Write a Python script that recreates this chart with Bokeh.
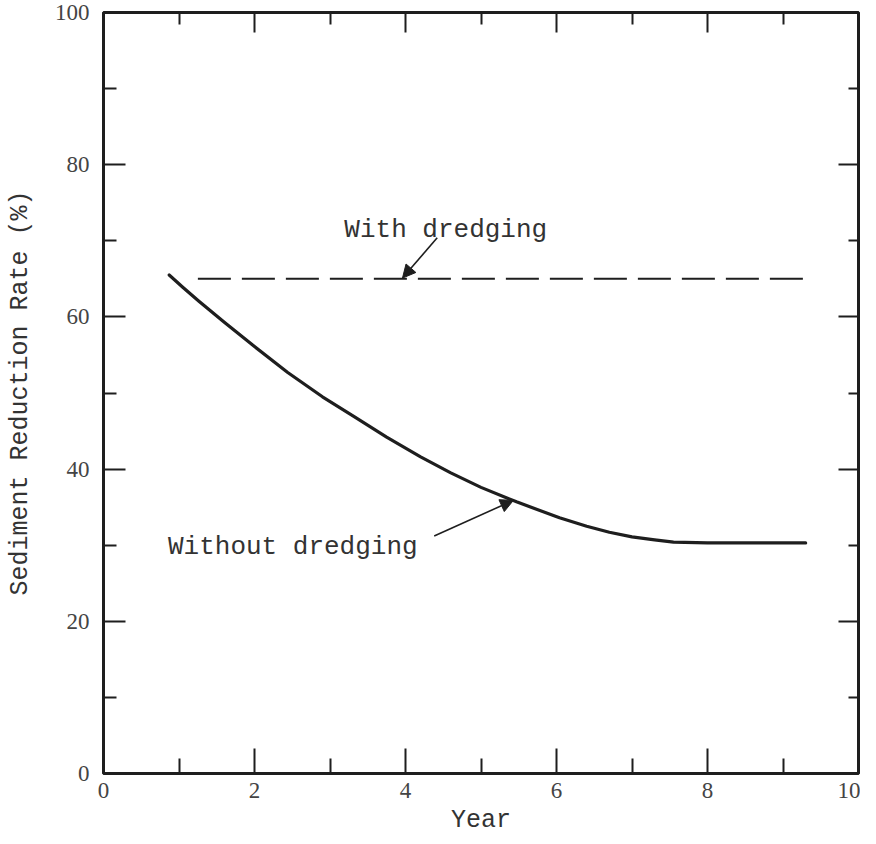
from bokeh.plotting import figure
from bokeh.models import Range1d, FixedTicker, LinearAxis, Arrow, NormalHead, ColumnDataSource
from bokeh.core.properties import value
from bokeh.embed import file_html
from bokeh.resources import INLINE

# ---- data ----
without_x = [0.87, 1.05, 1.26, 1.6, 2.0, 2.44, 2.9, 3.32, 3.75, 4.2, 4.6, 5.0, 5.47,
             6.04, 6.4, 6.7, 7.0, 7.3, 7.55, 8.0, 8.6, 9.3]
without_y = [65.5, 63.9, 62.1, 59.3, 56.1, 52.7, 49.5, 46.9, 44.2, 41.6, 39.5, 37.6, 35.7,
             33.6, 32.5, 31.7, 31.1, 30.7, 30.4, 30.3, 30.3, 30.3]

with_x = [1.25, 9.33]
with_y = [65.0, 65.0]

x_ticks = [0, 2, 4, 6, 8, 10]
x_minor = [1, 3, 5, 7, 9]
y_ticks = [0, 20, 40, 60, 80, 100]
y_minor = [10, 30, 50, 70, 90]

label_text = ["With dredging", "Without dredging"]
label_x = [3.19, 0.854]
label_y = [71.4, 29.8]

arrow_tail_x = [4.42, 4.38]
arrow_tail_y = [70.4, 31.2]
arrow_tip_x = [3.96, 5.43]
arrow_tip_y = [65.1, 35.9]

INK = "#1e1e1e"
TXT = "#333333"
MONO = "Liberation Mono"
SERIF = "Liberation Serif"

p = figure(width=860, height=836, output_backend="svg", toolbar_location=None,
           x_range=Range1d(0, 10), y_range=Range1d(0, 100),
           frame_width=755, frame_height=761,
           x_axis_location=None, y_axis_location=None,
           min_border_left=103, min_border_top=12, min_border_right=2, min_border_bottom=10)
p.xgrid.visible = False
p.ygrid.visible = False
p.outline_line_color = INK
p.outline_line_width = 3
p.background_fill_color = "white"
p.border_fill_color = "white"

def style_axis(ax, ticks, minor, major_len, minor_len, labels=True):
    ax.ticker = FixedTicker(ticks=ticks, minor_ticks=minor)
    ax.axis_line_color = None
    ax.major_tick_in = major_len
    ax.major_tick_out = 0
    ax.minor_tick_in = minor_len
    ax.minor_tick_out = 0
    ax.major_tick_line_color = INK
    ax.minor_tick_line_color = INK
    ax.major_tick_line_width = 2
    ax.minor_tick_line_width = 2
    if labels:
        ax.major_label_text_font = SERIF
        ax.major_label_text_font_size = "23px"
        ax.major_label_text_color = "#444444"
    else:
        ax.major_label_text_font_size = "0px"
        ax.major_label_text_color = None

xb = LinearAxis(axis_label="Year")
style_axis(xb, x_ticks, x_minor, 25, 15)
xb.major_label_standoff = 9
xb.axis_label_text_font = MONO
xb.axis_label_text_font_size = "25px"
xb.axis_label_text_font_style = "normal"
xb.axis_label_text_color = TXT
xb.axis_label_standoff = 5
p.add_layout(xb, "below")

yl = LinearAxis(axis_label="Sediment Reduction Rate (%)")
style_axis(yl, y_ticks, y_minor, 22, 13)
yl.major_label_standoff = 14
yl.axis_label_text_font = MONO
yl.axis_label_text_font_size = "25px"
yl.axis_label_text_font_style = "normal"
yl.axis_label_text_color = TXT
yl.axis_label_standoff = 17
p.add_layout(yl, "left")

xt = LinearAxis()
style_axis(xt, x_ticks, x_minor, 20, 12, labels=False)
p.add_layout(xt, "above")

yr = LinearAxis()
style_axis(yr, y_ticks, y_minor, 20, 10, labels=False)
p.add_layout(yr, "right")

p.line(without_x, without_y, line_color=INK, line_width=3.2, line_cap="round", line_join="round")
p.line(with_x, with_y, line_color=INK, line_width=2, line_dash="33 11")

src = ColumnDataSource(dict(x=label_x, y=label_y, t=label_text))
p.text(x="x", y="y", text="t", source=src, text_font=value(MONO), text_font_size="26px",
       text_color=TXT, text_align="left", text_baseline="alphabetic")

for tx, ty, hx, hy in zip(arrow_tail_x, arrow_tail_y, arrow_tip_x, arrow_tip_y):
    p.add_layout(Arrow(end=NormalHead(size=13, fill_color=INK, line_color=INK, line_width=1),
                       x_start=tx, y_start=ty, x_end=hx, y_end=hy,
                       line_color=INK, line_width=1.6))

open("out.html", "w").write(file_html(p, INLINE))
